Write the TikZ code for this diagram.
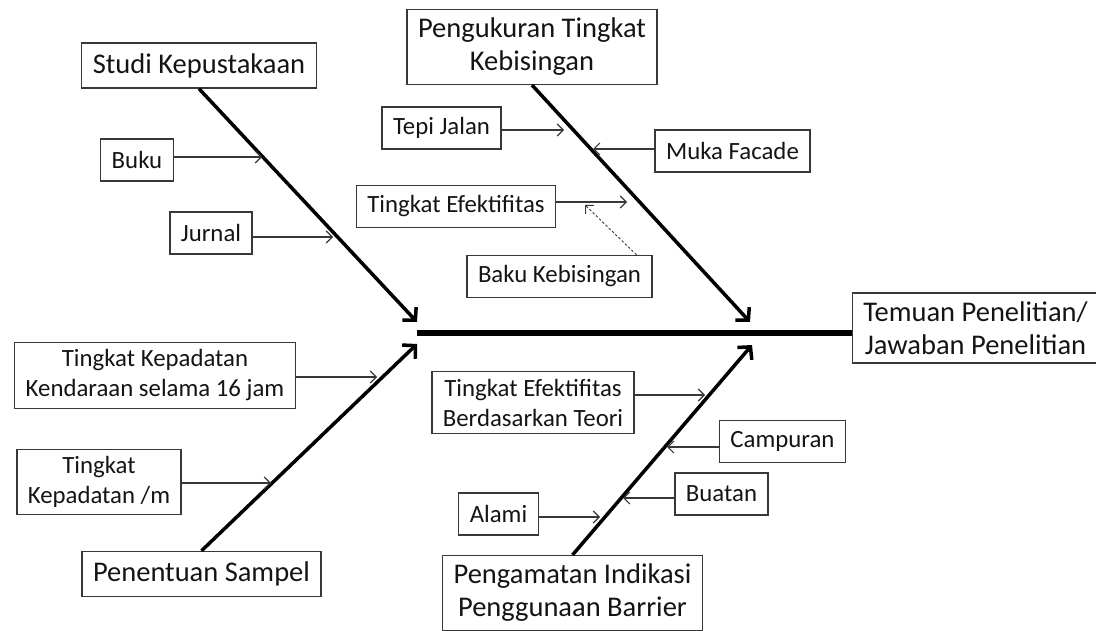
\documentclass[tikz,border=0pt]{standalone}
\usepackage{fontspec}
\setmainfont{Carlito}
\definecolor{BoxLine}{RGB}{56,56,56}
\definecolor{TextGray}{RGB}{20,20,20}
\usetikzlibrary{
    arrows.meta,
    positioning,
    calc,
}
\tikzset{
    smallbox/.style={rectangle, draw=BoxLine, line width=1.4pt, align=center, inner xsep=11pt, inner ysep=7pt, minimum height=42pt, text=TextGray, font=\fontsize{24.8}{30}\selectfont},
    mainbox/.style={smallbox, minimum height=45pt, inner ysep=8.5pt, font=\fontsize{28.5}{33}\selectfont},
    twig/.style={-{Straight Barb[length=6pt,width=12pt]}, line width=1.2pt, draw=BoxLine},
    bone/.style={-{Straight Barb[length=9pt,width=19pt]}, line width=3.5pt},
    spine/.style={line width=6pt},
}

\begin{document}
\begin{tikzpicture}[x=1pt, y=-1pt]
    \useasboundingbox (0,0) rectangle (1096,631);

    % main causes and effect
    \node[mainbox] (studi) at (199,65.5) {Studi Kepustakaan};
    \node[mainbox] (ukur) at (532,47) {Pengukuran Tingkat\\Kebisingan};
    \node[mainbox] (sampel) at (201.5,574) {Penentuan Sampel};
    \node[mainbox] (amati) at (572.5,593) {Pengamatan Indikasi\\Penggunaan Barrier};
    \node[mainbox] (temuan) at (975.5,328) {Temuan Penelitian/\\Jawaban Penelitian};

    % sub causes
    \node[smallbox] (buku) at (137,160) {Buku};
    \node[smallbox] (jurnal) at (211,233) {Jurnal};
    \node[smallbox] (tepi) at (441.5,128) {Tepi Jalan};
    \node[smallbox] (muka) at (732.5,151) {Muka Facade};
    \node[smallbox] (efek) at (456,206.5) {Tingkat Efektifitas};
    \node[smallbox] (baku) at (559.5,276.5) {Baku Kebisingan};
    \node[smallbox] (kendaraan) at (155,375.5) {Tingkat Kepadatan\\Kendaraan selama 16 jam};
    \node[smallbox] (kepadatan) at (99,482) {Tingkat\\Kepadatan /m};
    \node[smallbox] (teori) at (533,402.5) {Tingkat Efektifitas\\Berdasarkan Teori};
    \node[smallbox] (campur) at (782.5,441.5) {Campuran};
    \node[smallbox] (buatan) at (721.5,494) {Buatan};
    \node[smallbox] (alami) at (498.5,514) {Alami};

    % bone tips and spine
    \coordinate (tipA) at (417,322);
    \coordinate (tipB) at (750,322);
    \coordinate (tipC) at (417,344);
    \coordinate (tipD) at (752,345);
    \coordinate (head) at (417,333);
    \draw[spine] (head) -- (head -| temuan.west);
    \draw[bone] (studi.south) -- (tipA);
    \draw[bone] (ukur.south) -- (tipB);
    \draw[bone] (sampel.north) -- (tipC);
    \draw[bone] (amati.north) -- (tipD);

    % twig ends on the bones
    \coordinate (b1) at (262,157);
    \coordinate (b2) at (333,237);
    \coordinate (u1) at (564,130);
    \coordinate (u2) at (593,149);
    \coordinate (u3) at (627,202);
    \coordinate (u4) at (585,205);
    \coordinate (s1) at (377,377);
    \coordinate (s2) at (271,483);
    \coordinate (a1) at (705,395);
    \coordinate (a2) at (667,447);
    \coordinate (a3) at (623,498);
    \coordinate (a4) at (600,517);

    \draw[twig] (buku.east |- b1) -- (b1);
    \draw[twig] (jurnal.east |- b2) -- (b2);
    \draw[twig] (tepi.east |- u1) -- (u1);
    \draw[twig] (muka.west |- u2) -- (u2);
    \draw[twig] (efek.east |- u3) -- (u3);
    \draw[twig, line width=0.9pt, dash pattern=on 2.5pt off 2pt] ([xshift=77pt]baku.north) -- (u4);
    \draw[twig] (kendaraan.east |- s1) -- (s1);
    \draw[twig] (kepadatan.east |- s2) -- (s2);
    \draw[twig] (teori.east |- a1) -- (a1);
    \draw[twig] (campur.west |- a2) -- (a2);
    \draw[twig] (buatan.west |- a3) -- (a3);
    \draw[twig] (alami.east |- a4) -- (a4);
\end{tikzpicture}
\end{document}
